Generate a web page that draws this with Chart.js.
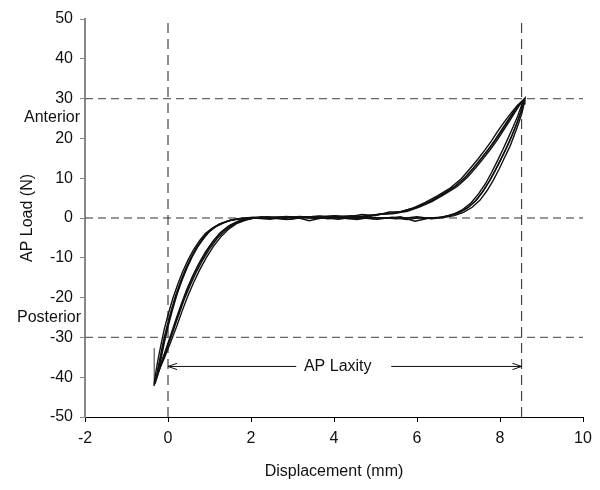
<!DOCTYPE html>
<html>
<head>
<meta charset="utf-8">
<script src="https://cdn.jsdelivr.net/npm/chart.js@4/dist/chart.umd.min.js"></script>
<style>
  body { margin: 0; background: #fff; }
  #apChart { display: block; }
</style>
</head>
<body>
<canvas id="apChart" width="600" height="490"></canvas>
<script>
const xTicks = [-2, 0, 2, 4, 6, 8, 10];
const yTicks = [-50, -40, -30, -20, -10, 0, 10, 20, 30, 40, 50];

// loading cycles, [displacement mm, load N]
const loop1 = [
  [-0.31,-41.6],[-0.18,-37.0],[-0.04,-33.0],[0.10,-29.0],[0.22,-25.2],[0.35,-21.2],[0.48,-17.6],[0.62,-14.2],[0.78,-11.0],[0.95,-8.0],
  [1.12,-5.5],[1.30,-3.4],[1.50,-1.8],[1.72,-0.7],[1.98,-0.1],[2.35,0.2],[2.7,-0.1],[3.05,0.3],[3.4,-0.7],[3.75,0.1],
  [4.1,-0.3],[4.45,0.2],[4.8,-0.1],[5.15,0.1],[5.5,-0.2],[5.85,0.1],[6.2,-0.1],[6.5,0.1],[6.75,0.5],[6.98,1.2],
  [7.2,2.4],[7.4,4.2],[7.58,6.6],[7.74,9.2],[7.88,11.9],[8.02,14.8],[8.15,17.6],[8.28,20.6],[8.39,23.4],[8.48,26.0],
  [8.55,28.3],[8.58,29.8],
  [8.46,28.6],[8.32,26.6],[8.18,24.4],[8.04,22.2],[7.88,19.6],[7.72,17.3],[7.55,15.0],[7.36,12.6],[7.15,10.1],[6.9,7.8],
  [6.6,5.9],[6.3,4.1],[6.0,2.7],[5.7,1.8],[5.4,1.3],[5.05,0.8],[4.7,0.5],[4.35,0.4],[4.0,0.3],[3.6,0.4],
  [3.2,0.2],[2.8,0.3],[2.4,0.1],[2.0,0.1],[1.7,-0.2],[1.48,-0.6],[1.3,-1.3],[1.12,-2.3],[0.96,-3.6],[0.82,-5.4],
  [0.68,-7.5],[0.55,-10.0],[0.42,-12.9],[0.30,-16.0],[0.18,-19.6],[0.07,-23.5],[-0.03,-27.4],[-0.12,-31.4],[-0.20,-35.6],[-0.27,-39.2],
  [-0.31,-41.6]
];
const loop2 = [
  [-0.28,-40.3],[-0.14,-36.2],[0.00,-32.0],[0.13,-28.0],[0.26,-24.3],[0.39,-20.5],[0.53,-17.0],[0.68,-13.6],[0.84,-10.5],[1.01,-7.6],
  [1.19,-5.1],[1.38,-3.1],[1.58,-1.6],[1.80,-0.6],[2.08,0.0],[2.45,-0.3],[2.8,0.2],[3.15,-0.1],[3.5,0.4],[3.85,-0.2],
  [4.2,0.1],[4.55,-0.4],[4.9,0.2],[5.25,-0.1],[5.6,0.3],[5.95,-0.8],[6.3,0.0],[6.58,0.2],[6.82,0.7],[7.04,1.5],
  [7.25,2.8],[7.44,4.6],[7.61,7.0],[7.77,9.7],[7.91,12.4],[8.05,15.3],[8.18,18.1],[8.3,21.0],[8.41,23.8],[8.5,26.5],
  [8.56,28.6],[8.6,30.1],
  [8.49,28.9],[8.35,26.8],[8.21,24.6],[8.07,22.4],[7.91,19.9],[7.75,17.6],[7.58,15.3],[7.39,12.9],[7.18,10.4],[6.94,8.1],
  [6.65,6.1],[6.35,4.3],[6.05,2.9],[5.75,2.0],[5.45,1.1],[5.1,0.9],[4.75,0.3],[4.4,0.6],[4.05,0.2],[3.65,0.5],
  [3.25,0.1],[2.85,0.4],[2.45,0.0],[2.05,0.2],[1.75,-0.1],[1.52,-0.5],[1.34,-1.2],[1.16,-2.1],[1.0,-3.4],[0.86,-5.1],
  [0.72,-7.2],[0.59,-9.6],[0.46,-12.5],[0.34,-15.6],[0.22,-19.1],[0.11,-23.0],[0.01,-26.9],[-0.08,-30.9],[-0.16,-35.0],[-0.23,-38.5],
  [-0.28,-40.3]
];
const loop3 = [
  [-0.34,-42.2],[-0.21,-37.8],[-0.07,-33.6],[0.06,-29.6],[0.18,-25.8],[0.31,-21.9],[0.44,-18.3],[0.58,-14.9],[0.73,-11.7],[0.9,-8.6],
  [1.07,-6.0],[1.25,-3.8],[1.45,-2.1],[1.67,-0.9],[1.92,-0.2],[2.25,0.3],[2.6,0.0],[2.95,-0.3],[3.3,0.2],[3.65,-0.1],
  [4.0,0.3],[4.35,-0.2],[4.7,0.0],[5.05,-0.3],[5.4,0.2],[5.75,-0.4],[6.1,0.1],[6.42,-0.1],[6.65,0.3],[6.88,1.0],
  [7.1,2.1],[7.31,3.9],[7.49,6.2],[7.66,8.8],[7.8,11.5],[7.94,14.4],[8.07,17.2],[8.2,20.2],[8.32,23.0],[8.43,25.7],
  [8.51,28.0],[8.56,29.5],
  [8.42,28.3],[8.26,26.3],[8.1,24.1],[7.95,21.9],[7.79,19.3],[7.63,17.0],[7.46,14.7],[7.27,12.3],[7.06,9.8],[6.8,7.5],
  [6.5,5.6],[6.2,3.9],[5.9,2.5],[5.62,1.6],[5.33,1.5],[5.0,0.6],[4.67,0.9],[4.32,0.2],[3.97,0.5],[3.57,0.1],
  [3.17,0.4],[2.77,0.0],[2.37,0.3],[1.97,0.0],[1.66,-0.3],[1.43,-0.8],[1.24,-1.5],[1.06,-2.6],[0.9,-3.9],[0.76,-5.7],
  [0.62,-7.9],[0.49,-10.4],[0.36,-13.3],[0.24,-16.5],[0.12,-20.1],[0.01,-24.0],[-0.09,-27.9],[-0.17,-31.9],[-0.25,-36.1],[-0.31,-39.8],
  [-0.34,-42.2]
];
const loop4 = [
  [-0.25,-39.0],[-0.08,-35.0],[0.07,-31.0],[0.21,-27.2],[0.34,-23.4],[0.47,-19.8],[0.61,-16.4],[0.76,-13.1],[0.92,-10.0],[1.09,-7.2],
  [1.27,-4.8],[1.45,-2.9],[1.65,-1.4],[1.88,-0.5],[2.12,0.1],[2.5,0.0],[2.85,-0.4],[3.2,0.1],[3.55,-0.1],[3.9,0.2],
  [4.25,-0.1],[4.6,0.3],[4.95,-0.2],[5.3,0.1],[5.65,-0.1],[6.0,0.3],[6.35,-0.2],[6.64,0.1],[6.9,0.6],[7.12,1.4],
  [7.33,2.7],[7.52,4.5],[7.69,6.9],[7.84,9.5],[7.98,12.3],[8.11,15.2],[8.24,18.0],[8.35,21.0],[8.45,23.8],[8.53,26.4],
  [8.58,28.7],[8.6,30.0],
  [8.5,28.8],[8.37,26.7],[8.24,24.5],[8.1,22.3],[7.94,19.7],[7.78,17.4],[7.61,15.1],[7.42,12.7],[7.21,10.2],[6.97,7.9],
  [6.67,6.0],[6.37,4.2],[6.07,2.8],[5.77,1.7],[5.47,1.2],[5.1,1.0],[4.72,0.4],[4.37,0.3],[4.02,0.6],[3.62,0.2],
  [3.22,0.3],[2.82,0.1],[2.42,0.2],[2.02,-0.1],[1.72,-0.2],[1.5,-0.6],[1.32,-1.3],[1.14,-2.2],[0.98,-3.5],[0.84,-5.3],
  [0.7,-7.4],[0.57,-9.8],[0.44,-12.7],[0.32,-15.8],[0.2,-19.3],[0.09,-23.2],[-0.01,-27.2],[-0.1,-31.2],[-0.18,-35.3],[-0.23,-37.6],
  [-0.25,-39.0]
];
const startSegment = [[-0.33,-32.7],[-0.33,-41.6]];

// reference lines
const loadLimits = [30, 0, -30];
const laxityStart = 0;
const laxityEnd = 8.52;
const arrowLoad = -37.3;
const labelGapLeft = 3.09;
const labelGapRight = 5.38;

const FONT = "'Liberation Sans', Arial, sans-serif";

function toPoints(pairs) {
  return pairs.map(p => ({ x: p[0], y: p[1] }));
}

function lineSet(points, color, width, dash) {
  return {
    data: points,
    showLine: true,
    borderColor: color,
    borderWidth: width,
    borderDash: dash || [],
    pointRadius: 0,
    tension: 0,
    fill: false
  };
}

const datasets = [];
[loop1, loop2, loop3, loop4].forEach(loop => {
  datasets.push(lineSet(toPoints(loop), '#111', 1.4));
});
datasets.push(lineSet(toPoints(startSegment), '#777', 1));

// arrows for AP laxity
datasets.push(lineSet([{ x: laxityStart, y: arrowLoad }, { x: labelGapLeft, y: arrowLoad }], '#111', 1));
datasets.push(lineSet([{ x: labelGapRight, y: arrowLoad }, { x: laxityEnd, y: arrowLoad }], '#111', 1));
datasets.push(lineSet([
  { x: laxityStart + 0.22, y: arrowLoad + 0.8 }, { x: laxityStart, y: arrowLoad }, { x: laxityStart + 0.22, y: arrowLoad - 0.8 }
], '#111', 1));
datasets.push(lineSet([
  { x: laxityEnd - 0.22, y: arrowLoad + 0.8 }, { x: laxityEnd, y: arrowLoad }, { x: laxityEnd - 0.22, y: arrowLoad - 0.8 }
], '#111', 1));

loadLimits.forEach(v => {
  datasets.push(lineSet([{ x: -2, y: v }, { x: 10, y: v }], v === 0 ? '#333' : '#666', 1.2, [8, 5]));
});
[laxityStart, laxityEnd].forEach(v => {
  datasets.push(lineSet([{ x: v, y: -50 }, { x: v, y: 50 }], '#444', 1.2, [10, 6]));
});

const labelPlugin = {
  id: 'apLabels',
  afterDraw(chart) {
    const ctx = chart.ctx;
    const xs = chart.scales.x;
    const ys = chart.scales.y;
    ctx.save();
    ctx.font = '16px ' + FONT;
    ctx.fillStyle = '#111';
    ctx.textBaseline = 'middle';
    ctx.textAlign = 'right';
    ctx.fillText('Anterior', xs.left - 5, ys.getPixelForValue(25.3));
    ctx.fillText('Posterior', xs.left - 4, ys.getPixelForValue(-25.1));
    ctx.textAlign = 'center';
    ctx.fillText('AP Laxity', xs.getPixelForValue(4.09), ys.getPixelForValue(arrowLoad));
    ctx.restore();
  }
};

new Chart(document.getElementById('apChart'), {
  type: 'scatter',
  data: { datasets: datasets },
  options: {
    responsive: false,
    animation: false,
    devicePixelRatio: 1,
    layout: { padding: { top: 19, right: 17, left: 0, bottom: 0 } },
    plugins: {
      legend: { display: false },
      tooltip: { enabled: false }
    },
    scales: {
      x: {
        type: 'linear',
        min: -2,
        max: 10,
        afterBuildTicks: scale => { scale.ticks = xTicks.map(v => ({ value: v })); },
        afterFit: scale => { scale.height = 73; },
        border: { color: '#000', width: 1 },
        grid: { drawOnChartArea: false, tickLength: 5, color: '#000' },
        ticks: { color: '#111', padding: 7, font: { family: FONT, size: 16 } },
        title: {
          display: true,
          text: 'Displacement (mm)',
          color: '#111',
          padding: { top: 0, bottom: 9 },
          font: { family: FONT, size: 16 }
        }
      },
      y: {
        type: 'linear',
        min: -50,
        max: 50,
        afterBuildTicks: scale => { scale.ticks = yTicks.map(v => ({ value: v })); },
        afterFit: scale => { scale.width = 85; },
        border: { color: '#888', width: 2 },
        grid: { drawOnChartArea: false, tickLength: 5, color: '#888' },
        ticks: { color: '#111', padding: 7, font: { family: FONT, size: 16 } },
        title: {
          display: true,
          text: 'AP Load (N)',
          color: '#111',
          padding: { top: 18, bottom: 0 },
          font: { family: FONT, size: 16 }
        }
      }
    }
  },
  plugins: [labelPlugin]
});
</script>
</body>
</html>
